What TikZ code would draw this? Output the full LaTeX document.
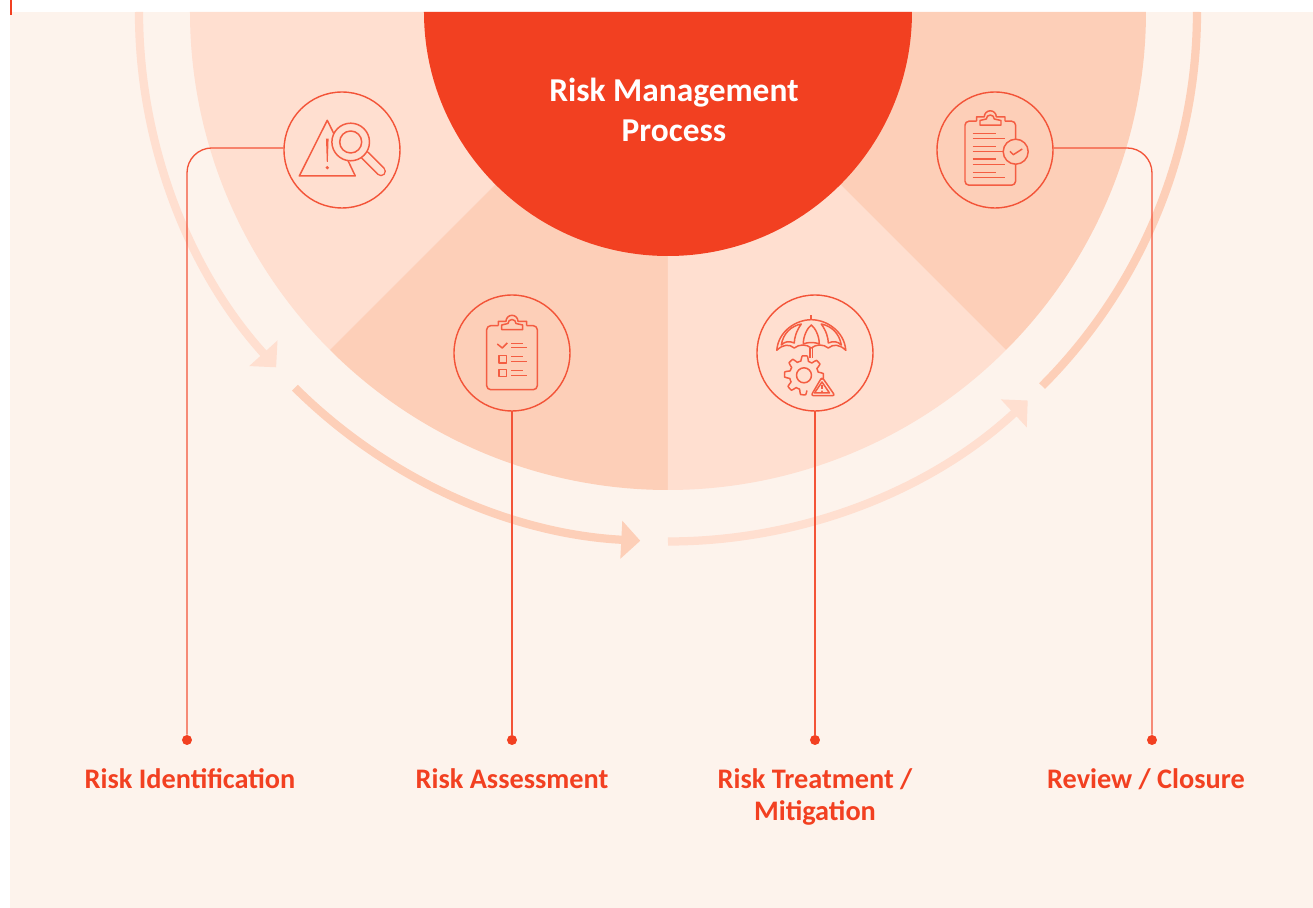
\documentclass[tikz,border=0pt]{standalone}
\usepackage{fontspec}
\setmainfont{Carlito}
\usepackage{tikz}
\usetikzlibrary{arrows.meta}
\definecolor{riskred}{HTML}{F24021}
\definecolor{paper}{HTML}{FDF3EC}
\definecolor{lightpeach}{HTML}{FFDFD0}
\definecolor{darkpeach}{HTML}{FDCFB8}
% one clipboard, used by two of the icons
\newcommand{\clipboardicon}{
	\draw[iconline,rounded corners=.08cm] (-13.7,27.3) -- (-25.3,27.3) -- (-25.3,-36.7) -- (25.3,-36.7) -- (25.3,27.3) -- (14.7,27.3);
	\draw[iconline] (-13.7,27.3) -- (-13.7,31.7) -- (-6,31.7) arc[start angle=180,end angle=0,radius=6] -- (14.7,31.7) -- (14.7,27.3);
	\draw[iconline] (-10.3,23.3) -- (10.7,23.3) -- (10.7,28) -- (4,29.5) arc[start angle=0,end angle=180,radius=4] -- (-10.3,28) -- cycle;
}
\begin{document}
\begin{tikzpicture}[>=stealth,x=.02cm,y=.02cm,
		ringarrow/.style={line width=.165cm,-{Triangle[length=.38cm,width=.74cm]}},
		ringline/.style={line width=.165cm},
		iconcircle/.style={circle,draw=riskred!90!white,line width=.8pt,minimum size=2.32cm,inner sep=0pt},
		iconline/.style={draw=riskred!85!white,line width=.85pt,line join=round},
		connector/.style={draw=riskred!90!white,line width=.75pt,rounded corners=.5cm},
		riskdot/.style={circle,fill=riskred,minimum size=.2cm,inner sep=0pt},
		risklabel/.style={text=riskred,font=\fontsize{16.1}{18.2}\selectfont\bfseries,align=center}]
		\useasboundingbox (-668,12) rectangle (645,-896);
		\fill[paper] (-658,0) rectangle (645,-896);
		\fill[riskred] (-657.5,12) rectangle (-655.5,-3);
		% the fan
		\fill[lightpeach] (0,0) -- (180:478) arc[start angle=180,end angle=225,radius=478] -- cycle;
		\fill[darkpeach] (0,0) -- (225:478) arc[start angle=225,end angle=270,radius=478] -- cycle;
		\fill[lightpeach] (0,0) -- (270:478) arc[start angle=270,end angle=315,radius=478] -- cycle;
		\fill[darkpeach] (0,0) -- (315:478) arc[start angle=315,end angle=360,radius=478] -- cycle;
		\fill[riskred] (180:244) arc[start angle=180,end angle=360,radius=244] -- cycle;
		% ring around the fan
		\draw[ringarrow,lightpeach] (180:529) arc[start angle=180,end angle=222.2,radius=529];
		\draw[ringarrow,darkpeach] (225.2:529.5) arc[start angle=225.2,end angle=267,radius=529.5];
		\draw[ringarrow,lightpeach] (270:529.5) arc[start angle=270,end angle=312.8,radius=529.5];
		\draw[ringline,darkpeach] (315:529) arc[start angle=315,end angle=360,radius=529];
		\node[text=white,font=\fontsize{19}{22.7}\selectfont\bfseries,align=center] (title) at (6,-98) {Risk Management\\Process};
		\node[iconcircle] (idcircle) at (-326,-138) {};
		\node[iconcircle] (assesscircle) at (-156,-341) {};
		\node[iconcircle] (treatcircle) at (147,-341) {};
		\node[iconcircle] (reviewcircle) at (327,-138) {};
		\node[riskdot] (iddot) at (-481,-728) {};
		\node[riskdot] (assessdot) at (-156,-728) {};
		\node[riskdot] (treatdot) at (147,-728) {};
		\node[riskdot] (reviewdot) at (484,-728) {};
		\draw[connector] (idcircle.178) -| (iddot);
		\draw[connector] (assesscircle) ++(0,-58) -- (assessdot);
		\draw[connector] (treatcircle) ++(0,-58) -- (treatdot);
		\draw[connector] (reviewcircle.2) -| (reviewdot);
		\node[risklabel] (idlabel) at (-478,-767) {Risk Identification};
		\node[risklabel] (assesslabel) at (-156,-767) {Risk Assessment};
		\node[risklabel] (treatlabel) at (147,-784.5) {Risk Treatment /\\Mitigation};
		\node[risklabel] (reviewlabel) at (478,-767) {Review / Closure};
		% triangle and magnifier
		\begin{scope}[shift={(-326,-138)}]
			\draw[iconline] (-7.5,15) -- (-14.7,29.7) -- (-42.7,-26) -- (13.3,-26) -- (5.7,-10);
			\fill[riskred!85!white] (-16,11.3) -- (-13.4,11.3) -- (-14.2,-12) -- (-15.2,-12) -- cycle;
			\fill[riskred!85!white] (-14.7,-17.7) circle (1.8);
			\draw[iconline,line cap=round,double=lightpeach,double distance=.14cm] (23,-5.3) -- (39,-21.3);
			\draw[iconline,fill=lightpeach] (8.7,8) circle (18.8);
			\draw[iconline] (8.7,8) circle (11);
		\end{scope}
		% checklist
		\begin{scope}[shift={(-156,-341)}]
			\clipboardicon
			\draw[iconline] (-14.7,9) -- (-9.7,5) -- (-4.7,10);
			\draw[iconline] (-13,-2.3) rectangle (-5.7,-10);
			\draw[iconline] (-13,-16.3) rectangle (-5.7,-23.7);
			\foreach \y in {9.7,-3.3,-17.3}{
				\draw[iconline] (-.7,\y) -- (10.7,\y);
			}
			\foreach \y in {5.3,-8.7,-22.3}{
				\draw[iconline] (-.7,\y) -- (14.7,\y);
			}
		\end{scope}
		% umbrella, gear and warning sign
		\begin{scope}[shift={(147,-341)}]
			\begin{scope}[shift={(-3.7,0)}]
				\draw[iconline,line width=1.2pt] (0,33.3) -- (0,37.7);
				\draw[iconline] (-34.5,2.7) .. controls (-33,22) and (-15,33.3) .. (0,33.3) .. controls (15,33.3) and (33,22) .. (34.5,2.7) .. controls (28,9) and (22,9) .. (17,5) .. controls (12,9) and (5,9) .. (0,5) .. controls (-5,9) and (-12,9) .. (-17,5) .. controls (-22,9) and (-28,9) .. (-34.5,2.7) -- cycle;
				\draw[iconline] (-30,8) .. controls (-28,20) and (-20,27) .. (-10,29) .. controls (-15,22) and (-17,15) .. (-17,10) .. controls (-22,12) and (-26,12) .. (-30,8) -- cycle;
				\draw[iconline] (30,8) .. controls (28,20) and (20,27) .. (10,29) .. controls (15,22) and (17,15) .. (17,10) .. controls (22,12) and (26,12) .. (30,8) -- cycle;
				\draw[iconline] (-8,9) .. controls (-8,17) and (-4,25) .. (0,28) .. controls (4,25) and (8,17) .. (8,9) .. controls (4,11) and (-4,11) .. (-8,9) -- cycle;
				\draw[iconline] (-1.2,5) -- (-1.2,-5);
				\draw[iconline] (1.2,5) -- (1.2,-5);
			\end{scope}
			\draw[iconline] (-11,-22.3) circle (7.5);
			\begin{scope}[shift={(-11,-22.3)}]
				\draw[iconline] plot[domain=-13:281,samples=240] (\x:{17+2.5*max(min(2*cos(8*\x+20),1),-1)});
			\end{scope}
			\draw[iconline,rounded corners=.05cm] (7,-24) -- (20,-42.7) -- (-4,-42.7) -- cycle;
			\draw[iconline] (7,-29) -- (14.5,-40) -- (-.5,-40) -- cycle;
			\draw[iconline] (7,-32) -- (7,-36.5);
			\fill[riskred] (7,-38.3) circle (.8);
		\end{scope}
		% clipboard with tick
		\begin{scope}[shift={(327,-138)}]
			\begin{scope}[shift={(-4.7,1.5)}]
				\clipboardicon
			\end{scope}
			\foreach \y in {16.5,3.5,-9,-22.5}{
				\draw[iconline] (-22.3,\y) -- (.7,\y);
			}
			\foreach \y in {11.5,-1.5,-14.5,-27.5}{
				\draw[iconline] (-22.3,\y) -- (10,\y);
			}
			\draw[iconline,fill=darkpeach] (20.7,-1.7) circle (12.5);
			\draw[iconline] (15,-1.3) -- (18.3,-4.7) -- (27.3,1);
		\end{scope}
	\end{tikzpicture}
\end{document}
